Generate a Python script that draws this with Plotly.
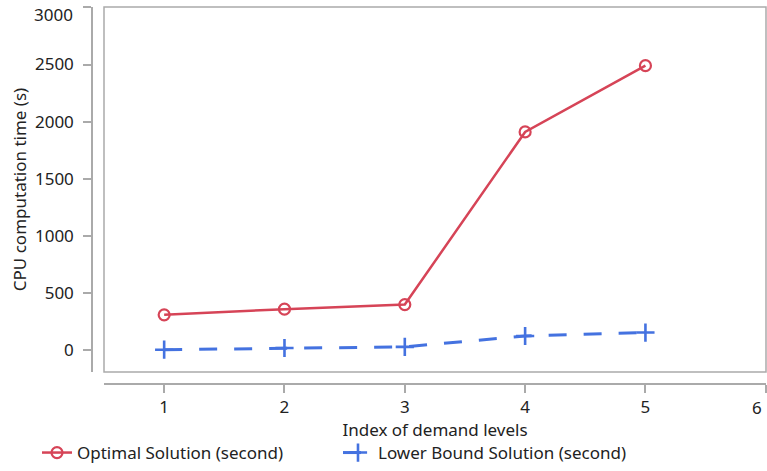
import plotly.graph_objects as go

x_levels = [1, 2, 3, 4, 5]
optimal = [310, 360, 400, 1910, 2490]
lower_bound = [5, 20, 30, 125, 155]
x_ticks = [1, 2, 3, 4, 5, 6]
y_ticks = [0, 500, 1000, 1500, 2000, 2500, 3000]

RED = "#d64457"
BLUE = "#4472e0"
GRAY = "#aaaaaa"
FONT = "Noto Sans"
FS = 17

fig = go.Figure()
fig.add_trace(go.Scatter(
    x=x_levels, y=optimal, mode="lines+markers",
    name="Optimal Solution (second)",
    line=dict(color=RED, width=2.5),
    marker=dict(symbol="circle-open", size=11, color=RED, line=dict(width=2.2, color=RED)),
))
fig.add_trace(go.Scatter(
    x=x_levels, y=lower_bound, mode="lines+markers",
    name="Lower Bound Solution (second)",
    line=dict(color=BLUE, width=3, dash="18px,17px"),
    marker=dict(symbol="cross-thin-open", size=13, color=BLUE, line=dict(width=2.6, color=BLUE)),
))

W, H = 767, 471
L, R, T, B = 92, 1, 7, 87
pw, ph = W - L - R, H - T - B

fig.update_layout(
    width=W, height=H,
    margin=dict(l=L, r=R, t=T, b=B, autoexpand=False),
    paper_bgcolor="white", plot_bgcolor="white",
    font=dict(family=FONT, size=FS, color="#222222"),
    showlegend=True,
    legend=dict(orientation="h", x=(37 - L) / pw, xanchor="left", y=-(453 - (H - B)) / ph, yanchor="middle",
                font=dict(size=FS), entrywidth=256, entrywidthmode="pixels",
                bgcolor="rgba(0,0,0,0)"),
    xaxis=dict(
        domain=[12 / pw, 1], anchor="free", position=0, automargin=False,
        range=[0.5, 6.002], tickvals=x_ticks,
        ticktext=[str(t) if t != x_ticks[-1] else "" for t in x_ticks],
        showline=True, linecolor=GRAY, linewidth=1.5,
        ticks="outside", ticklen=8, tickcolor=GRAY, tickwidth=1.5,
        showgrid=False, zeroline=False,
        title=dict(text="Index of demand levels", standoff=4, font=dict(size=FS)),
    ),
    yaxis=dict(
        domain=[12 / ph, 1], anchor="free", position=0, automargin=False,
        range=[-190, 3003], tickvals=y_ticks,
        ticktext=[str(t) if t != y_ticks[-1] else "" for t in y_ticks],
        showline=True, linecolor=GRAY, linewidth=1.5,
        ticks="outside", ticklen=8, tickcolor=GRAY, tickwidth=1.5,
        ticklabelstandoff=6,
        showgrid=False, zeroline=False,
        title=dict(text="CPU computation time (s)", standoff=3, font=dict(size=FS)),
    ),
)
fig.add_shape(type="rect", xref="x domain", yref="y domain", x0=0, x1=1, y0=0, y1=1,
              line=dict(color=GRAY, width=1.5), layer="below")
# edge tick labels nudged inside the page, as in the reference
fig.add_annotation(x=0, xref="x domain", xanchor="right", xshift=-30, y=y_ticks[-1], yref="y",
                   yanchor="middle", yshift=-7, text=str(y_ticks[-1]), showarrow=False,
                   font=dict(size=FS), borderpad=0)
fig.add_annotation(x=x_ticks[-1], xref="x", xanchor="right", xshift=-3, y=0, yref="y domain",
                   yanchor="middle", yshift=-35, text=str(x_ticks[-1]), showarrow=False,
                   font=dict(size=FS), borderpad=0)

fig.write_html("out.html", config={"displayModeBar": False},
               post_script="document.body.style.margin='0';")
